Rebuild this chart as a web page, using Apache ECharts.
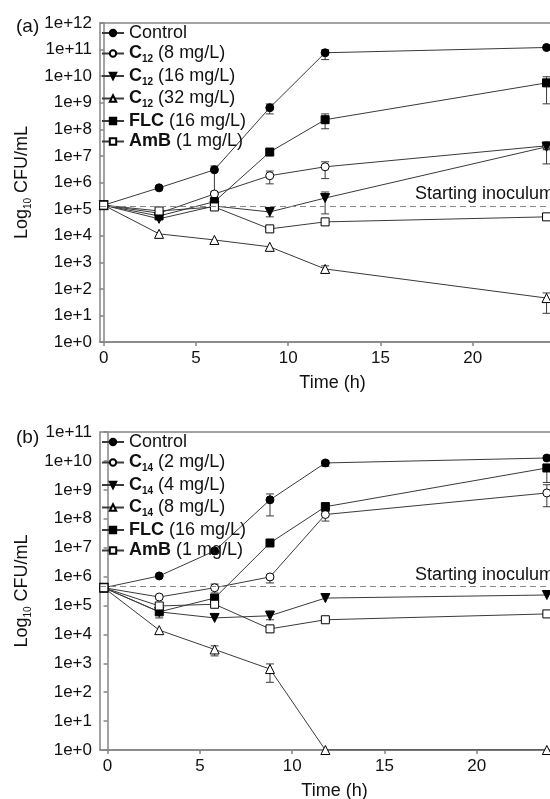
<!DOCTYPE html>
<html><head><meta charset="utf-8">
<script src="https://cdn.jsdelivr.net/npm/echarts@6/dist/echarts.min.js"></script>
<style>
html,body{margin:0;padding:0;background:#fff;}
#a{position:absolute;left:0;top:0;width:550px;height:400px;}
#b{position:absolute;left:0;top:400px;width:550px;height:399px;}
</style>
</head><body>
<div id="a"></div><div id="b"></div>
<script>
// ---------- Panel (a) ----------
const timesA = [0, 3, 6, 9, 12, 24];
const namesA = ['Control', 'C12 (8 mg/L)', 'C12 (16 mg/L)', 'C12 (32 mg/L)', 'FLC (16 mg/L)', 'AmB (1 mg/L)'];
const controlA = [1.4e5, 6.3e5, 3.0e6, 6.5e8, 7.6e10, 1.2e11];
const c12_8A   = [1.4e5, 7.0e4, 3.7e5, 1.8e6, 3.9e6, 2.4e7];
const c12_16A  = [1.4e5, 4.3e4, 1.3e5, 7.8e4, 2.6e5, 2.2e7];
const c12_32A  = [1.4e5, 1.17e4, 6.9e3, 3.8e3, 560, 45];
const flcA     = [1.4e5, 5.5e4, 1.9e5, 1.4e7, 2.3e8, 5.6e9];
const ambA     = [1.4e5, 8.5e4, 1.2e5, 1.8e4, 3.3e4, 5.1e4];
// error bars [low, high] per time point (null = none visible)
const controlA_err = [null, null, [4.4e5, 4.2e6], [3.8e8, 9.0e8], [4.2e10, 9.8e10], null];
const c12_8A_err   = [null, null, null, [8.9e5, 2.7e6], [1.4e6, 6.0e6], [1.7e7, 3.0e7]];
const c12_16A_err  = [null, null, null, [5.1e4, 1.1e5], [6.6e4, 4.4e5], [5.0e6, 3.4e7]];
const c12_32A_err  = [null, null, null, null, [390, 730], [12, 70]];
const flcA_err     = [null, null, null, null, [1.05e8, 3.8e8], [9.1e8, 9.5e9]];
const ambA_err     = [null, null, null, null, null, null];
const inoculumA = 1.25e5;
const yDecadesA = [1, 1e1, 1e2, 1e3, 1e4, 1e5, 1e6, 1e7, 1e8, 1e9, 1e10, 1e11, 1e12];

// ---------- Panel (b) ----------
const timesB = [-0.2, 2.8, 5.8, 8.8, 11.8, 23.8];
const namesB = ['Control', 'C14 (2 mg/L)', 'C14 (4 mg/L)', 'C14 (8 mg/L)', 'FLC (16 mg/L)', 'AmB (1 mg/L)'];
const controlB = [4.1e5, 1.05e6, 7.7e6, 4.5e8, 8.5e9, 1.26e10];
const c14_2B   = [4.1e5, 1.96e5, 4.1e5, 9.7e5, 1.4e8, 7.8e8];
const c14_4B   = [4.1e5, 6.0e4, 3.7e4, 4.4e4, 1.8e5, 2.3e5];
const c14_8B   = [4.1e5, 1.4e4, 3.0e3, 630, 1, 1];
const flcB     = [4.1e5, 6.0e4, 1.8e5, 1.45e7, 2.6e8, 5.7e9];
const ambB     = [4.1e5, 9.6e4, 1.1e5, 1.55e4, 3.2e4, 5.1e4];
const controlB_err = [null, null, null, [1.25e8, 7.2e8], [6.5e9, 1.0e10], null];
const c14_2B_err   = [null, null, [2.7e5, 5.5e5], [6.0e5, 1.1e6], [8.3e7, 1.8e8], [2.6e8, 1.5e9]];
const c14_4B_err   = [null, null, null, [3.2e4, 6.4e4], null, null];
const c14_8B_err   = [null, null, [1.8e3, 4.0e3], [220, 950], null, null];
const flcB_err     = [null, [3.7e4, 8.0e4], null, null, [1.8e8, 3.6e8], [1.8e9, 7.0e9]];
const ambB_err     = [null, null, null, null, null, null];
const inoculumB = 4.5e5;
const yDecadesB = [1, 1e1, 1e2, 1e3, 1e4, 1e5, 1e6, 1e7, 1e8, 1e9, 1e10, 1e11];

const xTicks = [0, 5, 10, 15, 20];

// ---------- styles ----------
const FONT = 'Liberation Sans, Arial, sans-serif';
const AXIS = '#858585';
const LINE = '#3a3a3a';
const markerStyles = [
  { symbol: 'circle', size: 8, fill: '#000' },
  { symbol: 'circle', size: 8, fill: '#fff' },
  { symbol: 'triangle', size: 9, fill: '#000', rotate: 180 },
  { symbol: 'triangle', size: 9, fill: '#fff' },
  { symbol: 'rect', size: 8, fill: '#000' },
  { symbol: 'rect', size: 8, fill: '#fff' }
];

function legendFmt(name) {
  let m = name.match(/^C(\d+) (.*)$/);
  if (m) return '{b|C}{s|' + m[1] + '}{t| ' + m[2] + '}';
  m = name.match(/^(FLC|AmB) (.*)$/);
  if (m) return '{b|' + m[1] + '}{t| ' + m[2] + '}';
  return '{t|' + name + '}';
}

function build(el, cfg) {
  const chart = echarts.init(document.getElementById(el), null, { renderer: 'canvas' });
  const series = [];
  cfg.values.forEach((vals, i) => {
    const ms = markerStyles[i];
    series.push({
      type: 'custom',
      name: cfg.names[i] + '_err',
      z: 1,
      silent: true,
      renderItem: function (params, api) {
        const p1 = api.coord([api.value(0), api.value(1)]);
        const p2 = api.coord([api.value(0), api.value(2)]);
        const w = 4;
        const st = { stroke: LINE, lineWidth: 1 };
        return {
          type: 'group',
          children: [
            { type: 'line', shape: { x1: p1[0], y1: p1[1], x2: p2[0], y2: p2[1] }, style: st },
            { type: 'line', shape: { x1: p1[0] - w, y1: p1[1], x2: p1[0] + w, y2: p1[1] }, style: st },
            { type: 'line', shape: { x1: p2[0] - w, y1: p2[1], x2: p2[0] + w, y2: p2[1] }, style: st }
          ]
        };
      },
      encode: { x: 0, y: [1, 2] },
      data: cfg.errs[i].map((e, k) => e ? [cfg.times[k], e[0], e[1]] : null).filter(d => d)
    });
    const s = {
      type: 'line',
      name: cfg.names[i],
      z: 3,
      data: vals.map((v, k) => [cfg.times[k], v]),
      symbol: ms.symbol,
      symbolSize: ms.size,
      symbolRotate: ms.rotate || 0,
      showAllSymbol: true,
      lineStyle: { color: LINE, width: 1 },
      itemStyle: { color: ms.fill, borderColor: '#000', borderWidth: 1 },
      emphasis: { disabled: true }
    };
    if (i === 0) {
      s.markLine = {
        silent: true,
        symbol: 'none',
        animation: false,
        lineStyle: { type: [6, 4], color: '#8a8a8a', width: 1 },
        label: {
          show: true, position: 'insideEndTop', formatter: 'Starting inoculum',
          fontSize: 18, fontFamily: FONT, color: '#111', padding: [0, cfg.inocPad, 0, 0], distance: 3
        },
        data: [{ yAxis: cfg.inoculum }]
      };
    }
    series.push(s);
  });

  chart.setOption({
    animation: false,
    backgroundColor: '#fff',
    textStyle: { fontFamily: FONT },
    title: {
      text: cfg.tag, left: 11, top: cfg.tagTop,
      textStyle: { fontSize: 19, fontWeight: 'normal', color: '#111', fontFamily: FONT }
    },
    grid: {
      left: 100, top: cfg.top, width: cfg.width, height: cfg.height,
      containLabel: false, outerBoundsMode: 'none',
      show: true, borderColor: AXIS, borderWidth: 1.5, backgroundColor: 'transparent'
    },
    legend: {
      data: cfg.names,
      orient: 'vertical',
      left: 101, top: cfg.top + 1,
      padding: 0,
      itemWidth: 22, itemHeight: 8, itemGap: 2.5,
      formatter: legendFmt,
      textStyle: {
        fontFamily: FONT, color: '#111', padding: 0,
        rich: {
          t: { fontSize: 18, lineHeight: 22, color: '#111', fontFamily: FONT },
          b: { fontSize: 18, lineHeight: 22, fontWeight: 'bold', color: '#111', fontFamily: FONT },
          s: { fontSize: 10, lineHeight: 10, fontWeight: 'bold', verticalAlign: 'bottom', color: '#111', fontFamily: FONT }
        }
      },
      selectedMode: false
    },
    xAxis: {
      type: 'value', min: cfg.xmin, max: 25,
      name: 'Time (h)', nameLocation: 'middle', nameGap: 32,
      nameTextStyle: { fontSize: 18, color: '#111', fontFamily: FONT },
      axisLine: { show: true, lineStyle: { color: AXIS, width: 1.5 } },
      axisTick: { show: true, length: 4, customValues: xTicks, lineStyle: { color: AXIS, width: 1.5 } },
      axisLabel: { customValues: xTicks, fontSize: 17, color: '#111', margin: 8, fontFamily: FONT },
      splitLine: { show: false }
    },
    yAxis: {
      type: 'log', logBase: 10, min: cfg.ymin, max: cfg.ymax,
      name: '{a|Log}{s|10}{a| CFU/mL}', nameLocation: 'middle', nameGap: 60,
      nameTextStyle: {
        rich: {
          a: { fontSize: 18, lineHeight: 22, color: '#111', fontFamily: FONT },
          s: { fontSize: 10, lineHeight: 10, verticalAlign: 'bottom', color: '#111', fontFamily: FONT }
        }
      },
      axisLine: { show: true, lineStyle: { color: AXIS, width: 1.5 } },
      axisTick: { show: true, length: 4, customValues: cfg.decades, lineStyle: { color: AXIS, width: 1.5 } },
      axisLabel: {
        customValues: cfg.decades, fontSize: 17, color: '#111', margin: 8, fontFamily: FONT,
        formatter: v => '1e+' + Math.round(Math.log10(v))
      },
      splitLine: { show: false }
    },
    series: series
  });
}

build('a', {
  tag: '(a)', tagTop: 12, top: 23, height: 319, width: 465, xmin: -0.2,
  ymin: 1, ymax: 1e12, decades: yDecadesA, inoculum: inoculumA, inocPad: 8,
  times: timesA, names: namesA,
  values: [controlA, c12_8A, c12_16A, c12_32A, flcA, ambA],
  errs: [controlA_err, c12_8A_err, c12_16A_err, c12_32A_err, flcA_err, ambA_err]
});
build('b', {
  tag: '(b)', tagTop: 23, top: 32, height: 318, width: 469, xmin: -0.41,
  ymin: 1, ymax: 1e11, decades: yDecadesB, inoculum: inoculumB, inocPad: 12,
  times: timesB, names: namesB,
  values: [controlB, c14_2B, c14_4B, c14_8B, flcB, ambB],
  errs: [controlB_err, c14_2B_err, c14_4B_err, c14_8B_err, flcB_err, ambB_err]
});
</script>
</body></html>
